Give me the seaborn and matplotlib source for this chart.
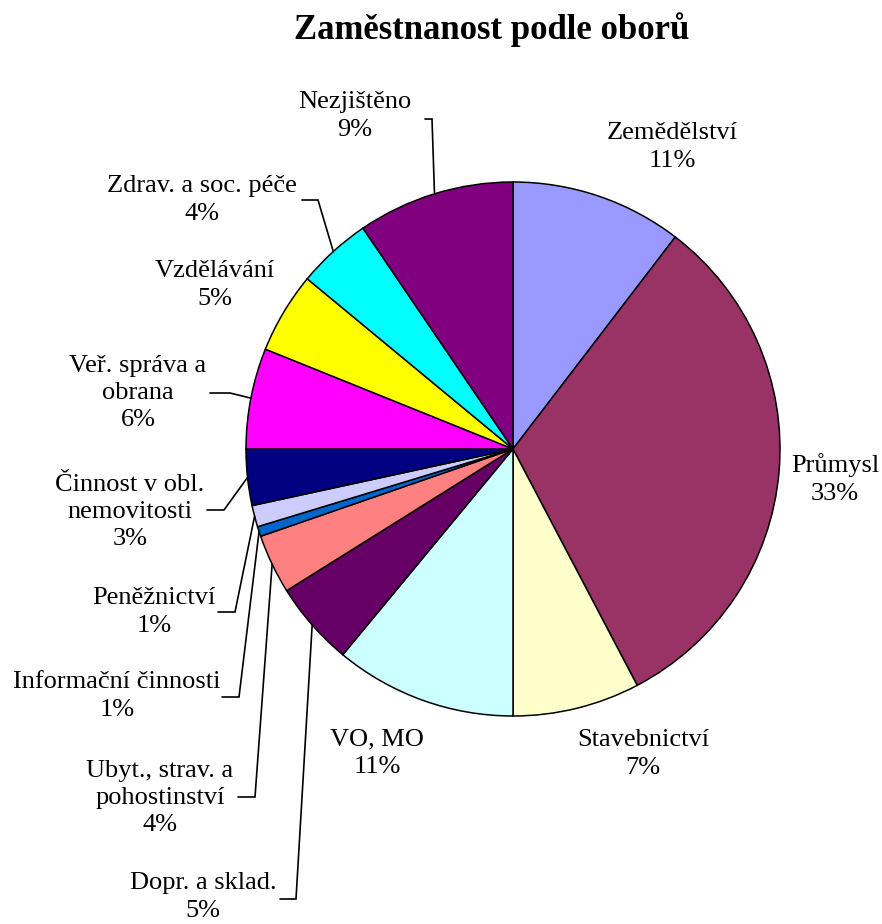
import numpy as np
import matplotlib
matplotlib.use("Agg")
import matplotlib.pyplot as plt
import seaborn as sns

sns.set_theme(style="white")
plt.rcParams["font.family"] = ["Liberation Serif", "DejaVu Serif"]
plt.rcParams["text.color"] = "black"

W, H = 882, 924

# data, clockwise from 12 o'clock
sectors = [
    "Zemědělství", "Průmysl", "Stavebnictví", "VO, MO", "Dopr. a sklad.",
    "Ubyt., strav. a\npohostinství", "Informační činnosti", "Peněžnictví",
    "Činnost v obl.\nnemovitosti", "Veř. správa a\nobrana", "Vzdělávání",
    "Zdrav. a soc. péče", "Nezjištěno",
]
# slice sizes (%)
shares = [10.4, 31.9, 7.7, 11.0, 5.1, 3.6, 0.6, 1.3, 3.4, 6.1, 4.9, 4.5, 9.5]
# percentages as printed on the chart
pct_labels = [11, 33, 7, 11, 5, 4, 1, 1, 3, 6, 5, 4, 9]
colors = [
    "#9999FF", "#993366", "#FFFFCC", "#CCFFFF", "#660066", "#FF8080", "#0066CC",
    "#CCCCFF", "#000080", "#FF00FF", "#FFFF00", "#00FFFF", "#800080",
]

# label layout (pixel coords, y down): block centre, and leader start/knee x
label_pos = [
    (672, 147), (835, 479), (643, 754), (377, 753), (203, 897),
    (160, 798), (117, 696), (154, 612), (130, 512), (138, 393),
    (215, 285), (202, 200), (355, 116),
]
leaders = {
    4: (280, 296, 899),
    5: (238, 255, 797),
    6: (222, 239, 697),
    7: (218, 235, 612),
    8: (207, 224, 510),
    9: (210, 230, 393),
    11: (302, 318, 200),
    12: (425, 432, 119),
}

CX, CY, R = 513, 449, 267


def px(x, y):
    return x, H - y


fig = plt.figure(figsize=(W / 100, H / 100), dpi=100)
ax = fig.add_axes([0, 0, 1, 1])
wedges, _ = ax.pie(
    shares, colors=colors, startangle=90, counterclock=False,
    center=px(CX, CY), radius=R,
    wedgeprops=dict(edgecolor="black", linewidth=1.1),
)
ax.set_xlim(0, W)
ax.set_ylim(0, H)
ax.set_aspect("equal")
ax.axis("off")

for i, name in enumerate(sectors):
    x, y = px(*label_pos[i])
    ax.text(x, y, f"{name}\n{pct_labels[i]}%", ha="center", va="center",
            multialignment="center", fontsize=19, linespacing=1.32, color="black")
    if i in leaders:
        x0, xk, yl = leaders[i]
        w = wedges[i]
        theta = np.deg2rad((w.theta1 + w.theta2) / 2)
        ex = CX + R * np.cos(theta)
        ey = CY - R * np.sin(theta)
        xs = [x0, xk, ex]
        ys = [H - yl, H - yl, H - ey]
        ax.plot(xs, ys, color="black", linewidth=1.2, solid_joinstyle="miter")

fig.text(492 / W, 1 - 30 / H, "Zaměstnanost podle oborů", ha="center", va="center",
         fontsize=25, fontweight="bold", color="black")

fig.savefig("out.png", dpi=100, facecolor="white")
